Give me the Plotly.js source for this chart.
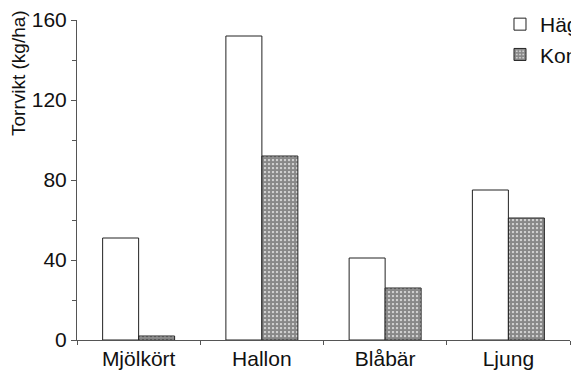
<!DOCTYPE html>
<html>
<head>
<meta charset="utf-8">
<script src="https://cdn.plot.ly/plotly-3.0.1.min.js"></script>
<style>
  html, body { margin: 0; padding: 0; background: #fff; overflow: hidden; }
  #chart { width: 571px; height: 372px; }
</style>
</head>
<body>
<div id="chart"></div>
<script>
// Torrvikt per art, hägnad vs kontroll
const arter = ['Mjölkört', 'Hallon', 'Blåbär', 'Ljung'];
const hagnad = [51, 152, 41, 75];
const kontroll = [2, 92, 26, 61];
const serieNamn = ['Hägnad', 'Kontroll'];
const yTicks = [0, 40, 80, 120, 160];
const yTitel = 'Torrvikt (kg/ha)';

const fontFam = '"Liberation Sans", Arial, Helvetica, sans-serif';
const ink = '#111';
const axisCol = '#555';

const traces = [
  {
    type: 'bar',
    name: serieNamn[0],
    x: arter,
    y: hagnad,
    marker: { color: '#ffffff', line: { color: '#222', width: 1 } },
    hoverinfo: 'x+y'
  },
  {
    type: 'bar',
    name: serieNamn[1],
    x: arter,
    y: kontroll,
    marker: {
      color: '#ffffff',
      line: { color: '#222', width: 1 },
      pattern: { shape: '.', size: 4, solidity: 0.8, fgcolor: '#111', bgcolor: '#ffffff', fillmode: 'overlay' }
    },
    hoverinfo: 'x+y'
  }
];

const layout = {
  width: 571,
  height: 372,
  margin: { l: 77, r: 1, t: 20, b: 32, autoexpand: false },
  paper_bgcolor: '#ffffff',
  plot_bgcolor: '#ffffff',
  font: { family: fontFam, color: ink, size: 21 },
  barmode: 'group',
  bargap: 0.416,
  bargroupgap: 0,
  showlegend: true,
  legend: {
    x: 0.858, xanchor: 'left',
    y: 1.05, yanchor: 'top',
    font: { family: fontFam, size: 21, color: ink },
    bgcolor: 'rgba(0,0,0,0)',
    tracegroupgap: 0
  },
  xaxis: {
    type: 'category',
    range: [-0.5, 3.5],
    showline: true, linecolor: axisCol, linewidth: 1,
    ticks: 'outside', tickson: 'boundaries', ticklen: 4, tickcolor: axisCol,
    showgrid: false, zeroline: false,
    tickfont: { family: fontFam, size: 21, color: ink },
    automargin: false
  },
  yaxis: {
    range: [0, 160],
    tickvals: yTicks,
    showline: true, linecolor: axisCol, linewidth: 1,
    ticks: 'outside', ticklen: 5, tickcolor: axisCol,
    minor: { dtick: 20, ticks: 'outside', ticklen: 4, tickcolor: axisCol, showgrid: false },
    showgrid: false, zeroline: false,
    tickfont: { family: fontFam, size: 21, color: ink },
    automargin: false
  },
  // axis title sits high, next to the upper ticks
  annotations: [{
    text: yTitel,
    xref: 'paper', yref: 'paper',
    x: -77 / 493 + 18 / 493, xanchor: 'center',
    y: (340 - 73) / 320, yanchor: 'middle',
    textangle: -90,
    showarrow: false,
    font: { family: fontFam, size: 19, color: ink }
  }]
};

Plotly.newPlot('chart', traces, layout, { displayModeBar: false, staticPlot: true });
</script>
</body>
</html>
